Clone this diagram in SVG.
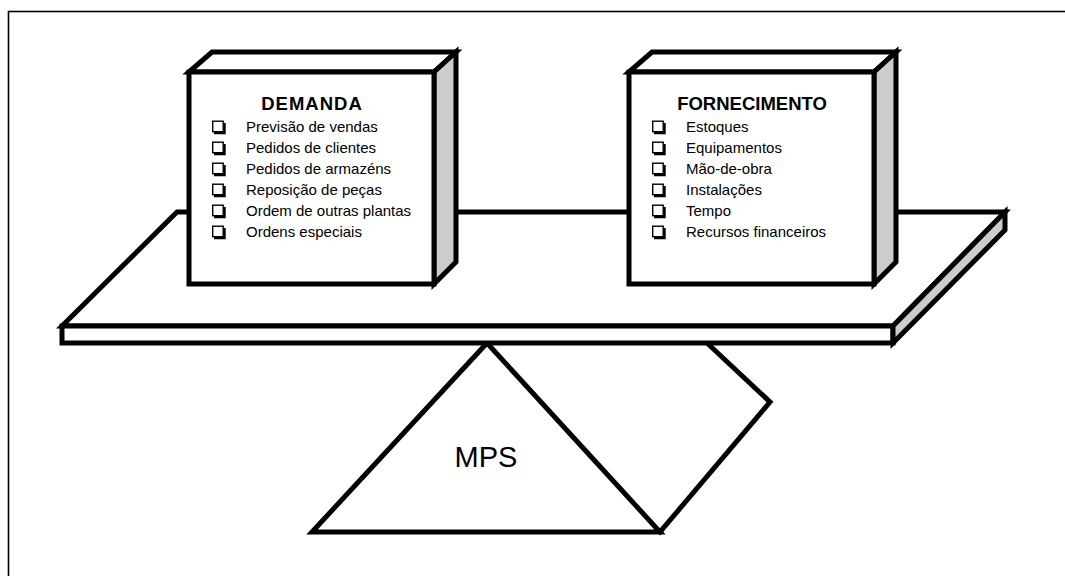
<svg xmlns="http://www.w3.org/2000/svg" width="1065" height="576" viewBox="0 0 1065 576">
  <style>
    .thick { fill: none; stroke: #000; stroke-width: 5; stroke-linejoin: miter; stroke-linecap: square; }
    .face { fill: #fff; stroke: #000; stroke-width: 5; stroke-linejoin: miter; }
    .side { fill: #cccccc; stroke: #000; stroke-width: 5; stroke-linejoin: miter; }
    .title { font-family: "Liberation Sans", Arial, sans-serif; font-size: 18.5px; font-weight: bold; fill: #000; text-anchor: middle; }
    .item { font-family: "Liberation Sans", Arial, sans-serif; font-size: 15px; fill: #000; }
    .label { font-family: "Liberation Sans", Arial, sans-serif; font-size: 29px; fill: #000; text-anchor: middle; }
  </style>
  <defs>
    <!-- checkbox with drop shadow -->
    <g id="chk">
      <path d="M2 11 H12.5 V1" fill="none" stroke="#000" stroke-width="2.4"/>
      <rect x="0.7" y="-0.8" width="10.5" height="10.5" fill="#fff" stroke="#000" stroke-width="1.4"/>
    </g>
  </defs>

  <rect width="1065" height="576" fill="#fff"/>
  <!-- frame -->
  <rect x="8.5" y="11.5" width="1100" height="620" fill="none" stroke="#000" stroke-width="1.6"/>

  <!-- fulcrum -->
  <g id="fulcrum">
    <polyline class="thick" points="707,343 770,402 660,532"/>
    <polygon class="thick" points="487,343 312,532 660,532"/>
    <text class="label" x="486" y="467">MPS</text>
  </g>

  <!-- beam -->
  <g id="beam">
    <polygon class="face" points="177,212 1005,212 893,326 62,326"/>
    <rect class="face" x="62" y="326" width="831" height="17"/>
    <polygon class="side" points="893,326 1005,212 1005,230 893,343"/>
  </g>

  <!-- demand block -->
  <g id="demanda">
    <polygon class="face" points="189,72 212,52 456,52 434,72"/>
    <polygon class="side" points="434,72 456,52 456,262 434,284"/>
    <rect class="face" x="189" y="72" width="245" height="212"/>
    <text class="title" x="312" y="110" letter-spacing="1">DEMANDA</text>
    <use href="#chk" x="212" y="122"/>
    <use href="#chk" x="212" y="143"/>
    <use href="#chk" x="212" y="164"/>
    <use href="#chk" x="212" y="185"/>
    <use href="#chk" x="212" y="206"/>
    <use href="#chk" x="212" y="227"/>
    <text class="item" x="246" y="132">Previsão de vendas</text>
    <text class="item" x="246" y="153">Pedidos de clientes</text>
    <text class="item" x="246" y="174">Pedidos de armazéns</text>
    <text class="item" x="246" y="195">Reposição de peças</text>
    <text class="item" x="246" y="216">Ordem de outras plantas</text>
    <text class="item" x="246" y="237">Ordens especiais</text>
  </g>

  <!-- supply block -->
  <g id="fornecimento">
    <polygon class="face" points="629,72 652,52 896,52 874,72"/>
    <polygon class="side" points="874,72 896,52 896,262 874,284"/>
    <rect class="face" x="629" y="72" width="245" height="212"/>
    <text class="title" x="752" y="110">FORNECIMENTO</text>
    <use href="#chk" x="652" y="122"/>
    <use href="#chk" x="652" y="143"/>
    <use href="#chk" x="652" y="164"/>
    <use href="#chk" x="652" y="185"/>
    <use href="#chk" x="652" y="206"/>
    <use href="#chk" x="652" y="227"/>
    <text class="item" x="686" y="132">Estoques</text>
    <text class="item" x="686" y="153">Equipamentos</text>
    <text class="item" x="686" y="174">Mão-de-obra</text>
    <text class="item" x="686" y="195">Instalações</text>
    <text class="item" x="686" y="216">Tempo</text>
    <text class="item" x="686" y="237">Recursos financeiros</text>
  </g>
</svg>
